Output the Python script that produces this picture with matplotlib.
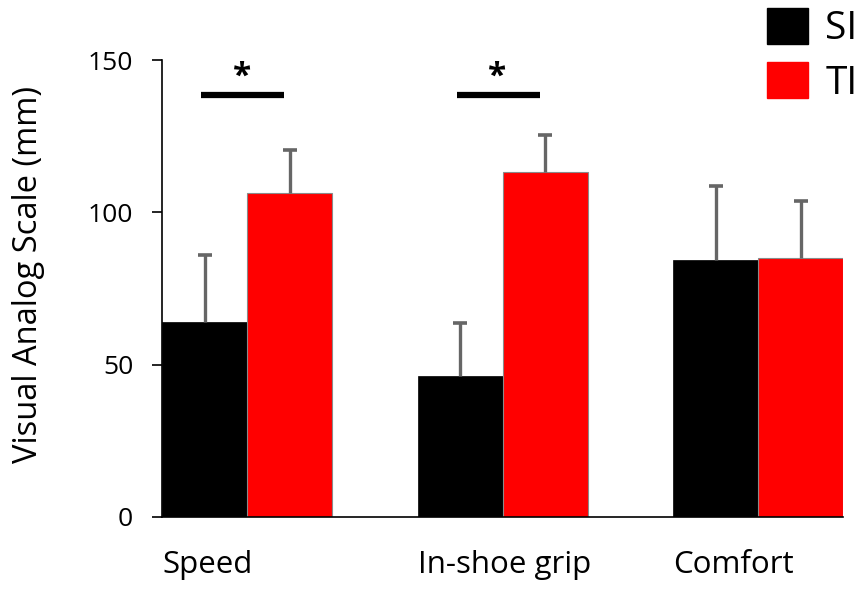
import numpy as np
import matplotlib
matplotlib.use('Agg')
import matplotlib.pyplot as plt
from matplotlib.patches import Patch

plt.rcParams['font.family'] = ['Open Sans', 'DejaVu Sans']

categories = ['Speed', 'In-shoe grip', 'Comfort']
si_mean = [64.0, 46.2, 84.4]
si_err = [21.9, 17.4, 24.2]
ti_mean = [106.3, 113.3, 85.1]
ti_err = [14.2, 12.1, 18.6]
sig_pairs = [0, 1]
sig_level = 138.5

x = np.arange(len(categories))
w = 0.332
errc = '#666666'

fig = plt.figure(figsize=(8.63, 5.90), dpi=100)
ax = fig.add_axes([0.188, 0.124, 0.789, 0.774])

ax.bar(x - w/2, si_mean, w, color='black', edgecolor='black', linewidth=0.5, zorder=3)
ax.bar(x + w/2, ti_mean, w, color='#ff0000', edgecolor='#8a8a8a', linewidth=0.8, zorder=3)

# upper error bars only (cap at the top end)
for xs, m, e in [(x - w/2, si_mean, si_err), (x + w/2, ti_mean, ti_err)]:
    top = np.array(m) + np.array(e)
    ax.vlines(xs, m, top, color=errc, lw=2.4, zorder=4)
    ax.plot(xs, top, '_', color=errc, ms=9.5, mew=2.6, zorder=4)

for i in sig_pairs:
    ax.plot([i - 0.18, i + 0.145], [sig_level, sig_level], color='black', lw=4.5,
            solid_capstyle='butt')
    ax.text(i - 0.02, sig_level + 0.5, '*', ha='center', va='bottom',
            fontsize=24, fontweight='bold')

ax.set_xlim(-w, 2 + w)
ax.set_ylim(0, 150)
ax.set_yticks([0, 50, 100, 150])
ax.set_xticks([])
for s in ['top', 'right']:
    ax.spines[s].set_visible(False)
ax.spines['left'].set_linewidth(1.2)
ax.spines['bottom'].set_linewidth(1.2)
ax.spines['bottom'].set_zorder(5)
ax.tick_params(axis='y', labelsize=19, length=7, width=1.2, pad=14)
ax.set_ylabel('Visual Analog Scale (mm)', fontsize=23.5)
ax.yaxis.set_label_coords(-0.172, 0.53)

for i, c in enumerate(categories):
    ax.text(i - w, -0.105, c, transform=ax.get_xaxis_transform(), ha='left',
            va='center', fontsize=22.5)

handles = [Patch(facecolor='black', edgecolor='black'),
           Patch(facecolor='#ff0000', edgecolor='#ff0000')]
fig.legend(handles, ['SI', 'TI'], loc='upper left',
           bbox_to_anchor=(767/863, 1 - 8/590), frameon=False, fontsize=28,
           handlelength=1.05, handleheight=1.05, handletextpad=0.45,
           labelspacing=0.36, borderpad=0.0, borderaxespad=0.0)

fig.savefig('out.png', dpi=100)
